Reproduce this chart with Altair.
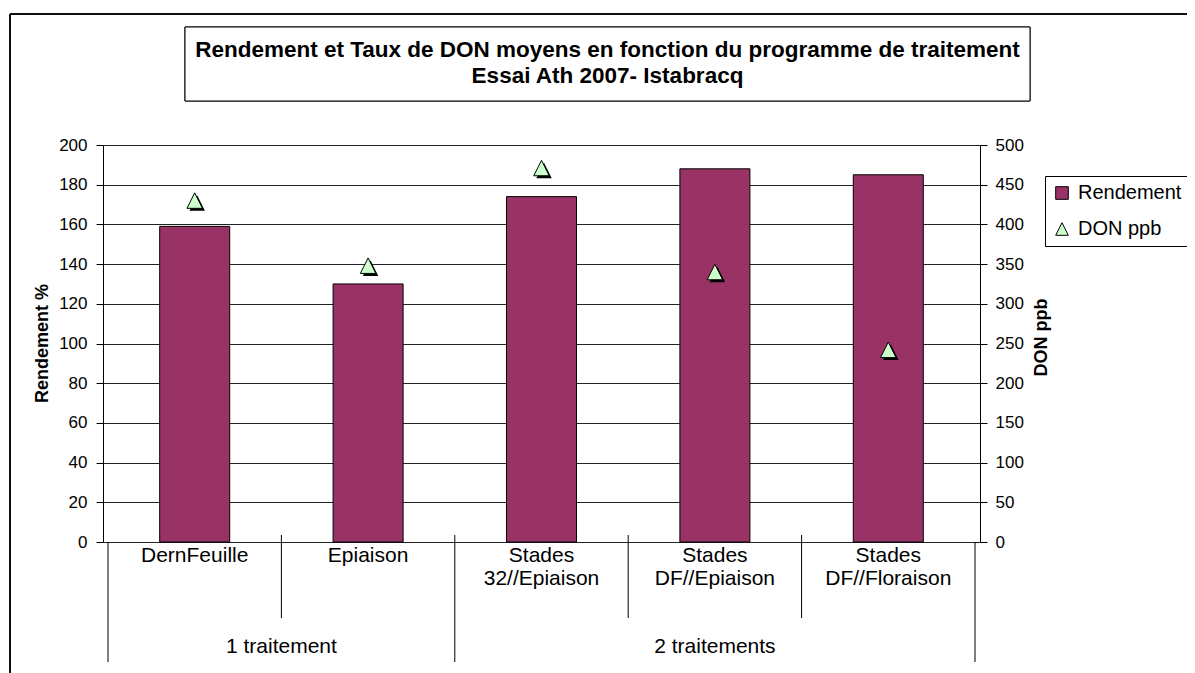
import altair as alt
import pandas as pd

# ---- data ----
categories = ["DernFeuille", "Epiaison", "Stades\n32//Epiaison", "Stades\nDF//Epiaison", "Stades\nDF//Floraison"]
rendement = [159, 130, 174, 188, 185]
don_ppb = [430, 348, 471, 340, 242]
groups = ["1 traitement", "2 traitements"]
group_centers = [0.5, 3.0]
cat_bounds = [0.5, 2.5, 3.5]
group_bounds = [-0.5, 1.5, 4.5]
left_ticks = list(range(0, 201, 20))
right_ticks = list(range(0, 501, 50))
title_lines = ["Rendement et Taux de DON moyens en fonction du programme de traitement",
               "Essai Ath 2007- Istabracq"]

FONT = "Liberation Sans"
PL = 95
W, H = 877, 397
TRI = "M0,-1L1,1L-1,1Z"

idx = list(range(len(categories)))
df_r = pd.DataFrame({"idx": idx, "cat": categories, "val": rendement, "series": "Rendement"})
df_d = pd.DataFrame({"idx": idx, "val": don_ppb, "series": "DON ppb"})
df_cb = pd.DataFrame({"b": cat_bounds})
df_gb = pd.DataFrame({"b": group_bounds, "top": [397, 390, 397]})
df_g = pd.DataFrame({"c": group_centers, "g": groups})
df_t = pd.DataFrame({"t": title_lines, "y": [-95, -69]})

# page x -> plot x
def px(v):
    return v - 8 - PL

xscale = alt.Scale(domain=[-0.5, 4.5], nice=False, zero=False)
X = alt.X("idx:Q", scale=xscale, axis=None)
color_scale = alt.Scale(domain=["Rendement", "DON ppb"], range=["#993366", "#CCFFCC"])
shape_scale = alt.Scale(domain=["Rendement", "DON ppb"], range=["square", TRI])
legend = alt.Legend(title=None, orient="none", legendX=px(1045), legendY=31,
                    strokeColor="black", fillColor="white", padding=7,
                    labelFontSize=20, labelFont=FONT, labelColor="black",
                    symbolSize=160, symbolStrokeColor="black", symbolStrokeWidth=1,
                    rowPadding=16, labelOffset=6)

axis_common = dict(domainColor="black", tickColor="black", tickSize=7,
                   labelFontSize=17, labelFont=FONT, labelColor="black",
                   titleFontSize=18, titleFont=FONT, titleFontWeight="bold",
                   titleColor="black", titleAngle=270, titleAlign="center",
                   titleBaseline="middle")

bars = alt.Chart(df_r).mark_bar(size=70, stroke="black", strokeWidth=1).encode(
    x=X,
    y=alt.Y("val:Q", scale=alt.Scale(domain=[0, 200], nice=False),
            axis=alt.Axis(values=left_ticks, title="Rendement %", grid=True,
                          gridColor="#222222", gridWidth=1, labelPadding=9,
                          titleX=px(42), titleY=198, **axis_common)),
    color=alt.Color("series:N", scale=color_scale, legend=legend),
)

short_rules = alt.Chart(df_cb).mark_rule(color="black", strokeWidth=1).encode(
    x=alt.X("b:Q", scale=xscale, axis=None), y=alt.value(390), y2=alt.value(473))
long_rules = alt.Chart(df_gb).mark_rule(color="black", strokeWidth=1).encode(
    x=alt.X("b:Q", scale=xscale, axis=None), y=alt.Y("top:Q", scale=None), y2=alt.value(517))

cat_text = alt.Chart(df_r).mark_text(baseline="top", align="center", lineBreak="\n",
                                     fontSize=21, lineHeight=23, font=FONT, color="black").encode(
    x=X, y=alt.value(400), text="cat:N")
grp_text = alt.Chart(df_g).mark_text(baseline="middle", align="center",
                                     fontSize=21, font=FONT, color="black").encode(
    x=alt.X("c:Q", scale=xscale, axis=None), y=alt.value(502), text="g:N")

title_box = alt.Chart(df_t).mark_rect(fill="white", stroke="black", strokeWidth=1).encode(
    x=alt.value(px(185)), x2=alt.value(px(1030)), y=alt.value(-118), y2=alt.value(-44))
title_text = alt.Chart(df_t).mark_text(fontSize=22.5, fontWeight="bold", font=FONT,
                                       color="black", baseline="middle", align="center").encode(
    x=alt.value(px(607.5)), y=alt.Y("y:Q", scale=None), text="t:N")

border_top = alt.Chart(df_t).mark_rule(color="black", strokeWidth=1.5).encode(
    x=alt.value(px(10)), x2=alt.value(px(1200)), y=alt.value(-131))
border_left = alt.Chart(df_t).mark_rule(color="black", strokeWidth=1.5).encode(
    x=alt.value(px(10)), y=alt.value(-131), y2=alt.value(530))

YR = alt.Y("val:Q", scale=alt.Scale(domain=[0, 500], nice=False),
           axis=alt.Axis(values=right_ticks, orient="right", title="DON ppb", grid=False,
                         labelPadding=8, titleX=61, titleY=192, **axis_common))
shadow = alt.Chart(df_d).mark_point(shape=TRI, filled=True, color="black", opacity=1,
                                    size=240, xOffset=2.5, yOffset=2.5).encode(x=X, y=YR)
points = alt.Chart(df_d).mark_point(filled=True, stroke="black", strokeWidth=1,
                                    opacity=1, size=240).encode(
    x=X, y=YR,
    color=alt.Color("series:N", scale=color_scale, legend=legend),
    shape=alt.Shape("series:N", scale=shape_scale, legend=legend),
)

left_layer = alt.layer(border_top, border_left, title_box, title_text, bars,
                       short_rules, long_rules, cat_text, grp_text)
right_layer = alt.layer(shadow, points)

chart = alt.layer(left_layer, right_layer).resolve_scale(y="independent").properties(
    width=W, height=H,
    autosize=alt.AutoSizeParams(type="none"),
    padding={"left": PL, "top": 137, "right": 1179 - PL - W, "bottom": 131},
    background="white",
).configure_view(stroke=None)

chart.save("out.html", embed_options={"renderer": "svg", "actions": False})
